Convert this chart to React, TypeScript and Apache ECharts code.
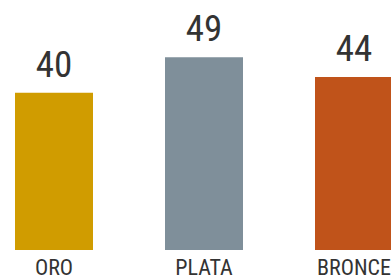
import React, { useEffect, useRef } from "react";
import * as echarts from "echarts";

const categories = ["ORO", "PLATA", "BRONCE"];
const values = [40, 49, 44];
const colors = ["#D09C00", "#7F8F9A", "#C0531A"];

const FONT = "'Roboto Condensed', 'Liberation Sans Narrow', 'Arial Narrow', sans-serif";

export default function App() {
  const ref = useRef<HTMLDivElement>(null);
  useEffect(() => {
    if (!ref.current) return;
    const chart = echarts.init(ref.current, undefined, { renderer: "svg" });
    chart.setOption({
      animation: false,
      grid: { left: 0, right: 0, top: 14, bottom: 27 },
      xAxis: {
        type: "category",
        data: categories,
        axisLine: { show: false },
        axisTick: { show: false },
        axisLabel: { color: "#333", fontSize: 22, fontWeight: 400, fontFamily: FONT, margin: 6 },
      },
      yAxis: {
        type: "value",
        min: 0,
        max: 60,
        show: false,
        splitLine: { show: false },
      },
      series: [
        {
          type: "bar",
          barWidth: 78,
          data: values.map((v, i) => ({ value: v, itemStyle: { color: colors[i] } })),
          label: {
            show: true,
            position: "top",
            distance: 10,
            color: "#333",
            fontSize: 37,
            fontWeight: 400,
            fontFamily: FONT,
          },
        },
      ],
    });
    return () => chart.dispose();
  }, []);
  return (
    <div style={{ position: "fixed", left: 0, top: 0, width: 391, height: 278, overflow: "hidden", background: "#fff" }}>
      <div ref={ref} style={{ position: "absolute", left: -21, top: 0, width: 450, height: 278 }} />
    </div>
  );
}
